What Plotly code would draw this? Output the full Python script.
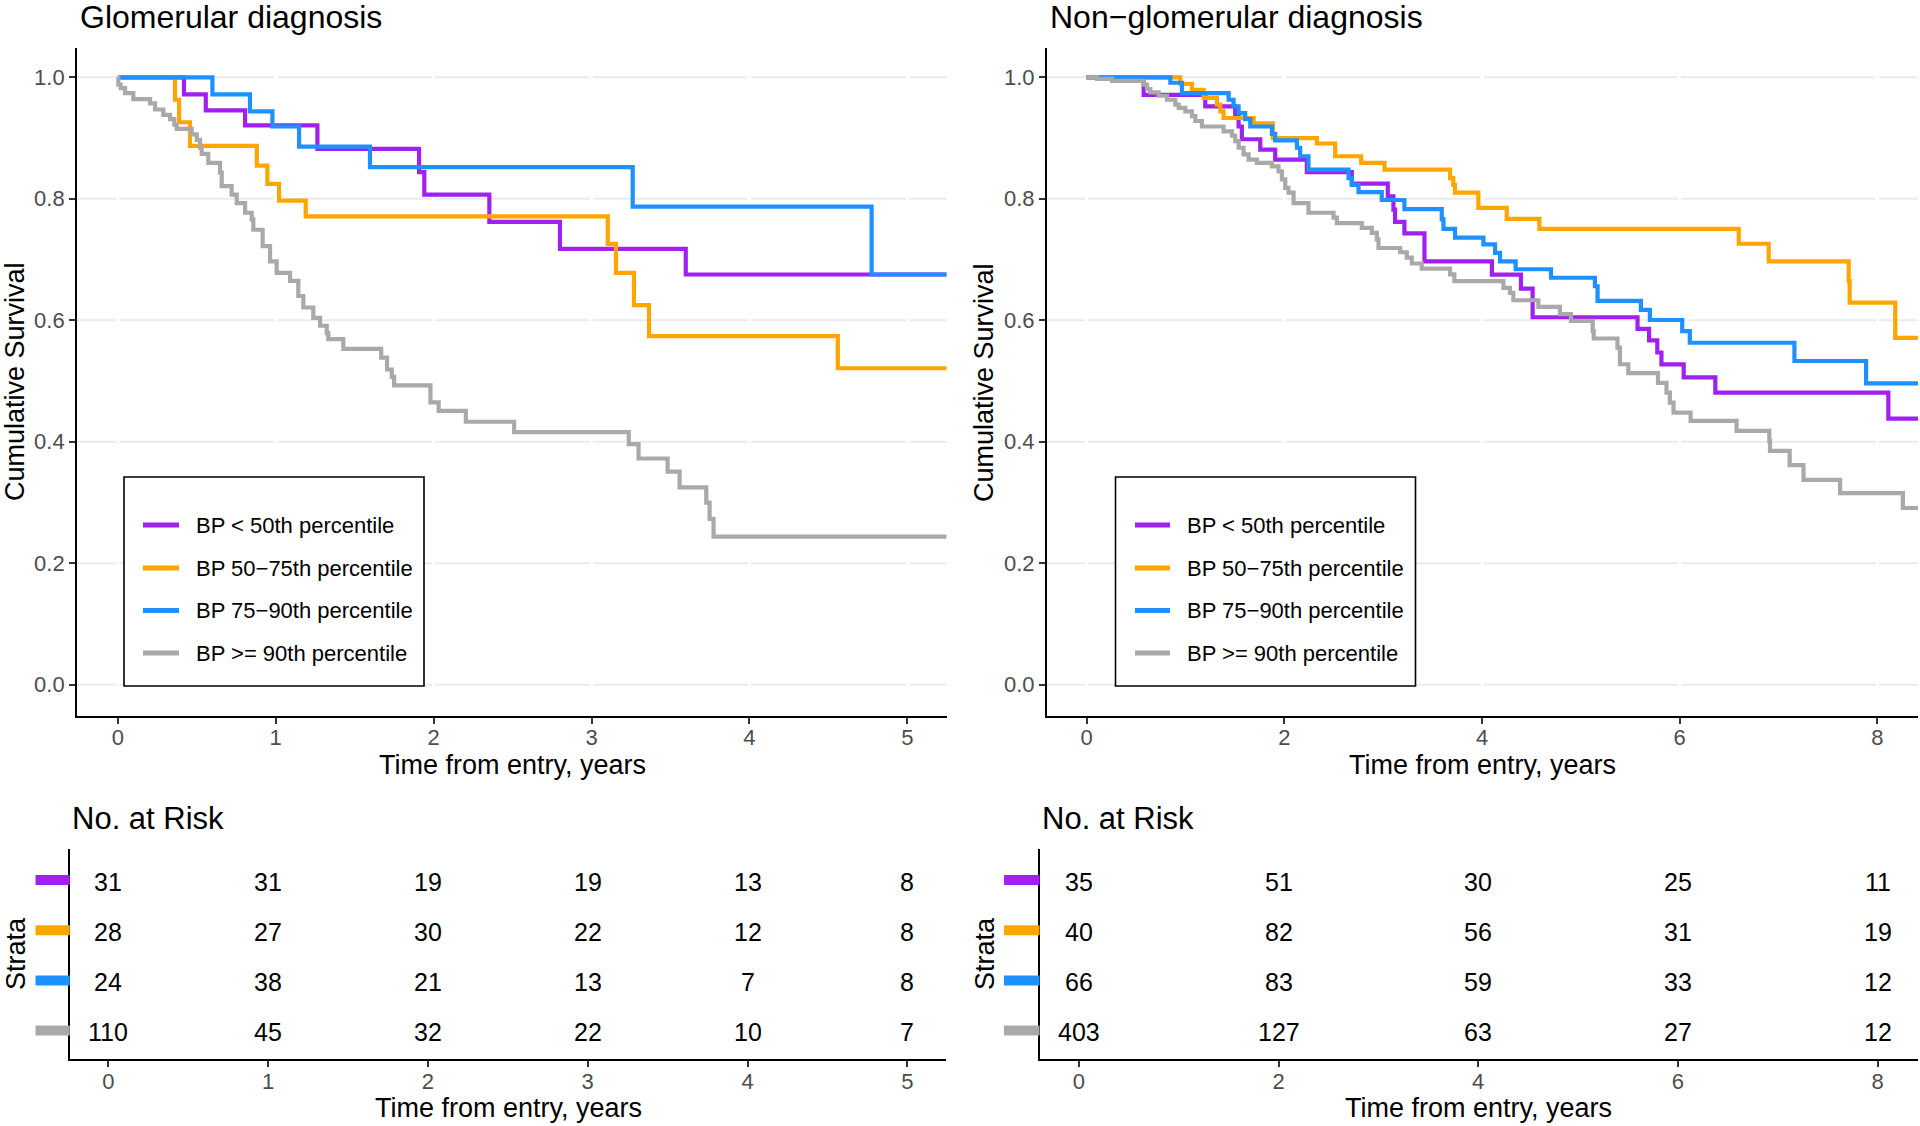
import plotly.graph_objects as go

W, H = 1920, 1126
FONT = "Liberation Sans, Arial, sans-serif"

def px(x):
    return x / W

def py(y):
    return 1 - y / H

# ---------------- data ----------------
series_names = ["BP < 50th percentile", "BP 50\u221275th percentile",
                "BP 75\u221290th percentile", "BP >= 90th percentile"]
series_colors = ["#A020F0", "#FFA500", "#1E90FF", "#A9A9A9"]

# Glomerular diagnosis (time in years, cumulative survival)
glom_purple_t = [0, 0.419, 0.557, 0.806, 1.264, 1.908, 1.941, 2.353, 2.80, 3.597, 5.25]
glom_purple_s = [1, 0.972, 0.9455, 0.921, 0.882, 0.844, 0.807, 0.762, 0.7176, 0.6754, 0.6754]

glom_orange_t = [0, 0.362, 0.388, 0.457, 0.88, 0.947, 1.021, 1.19, 3.103, 3.155, 3.269, 3.364, 4.56, 5.25]
glom_orange_s = [1, 0.963, 0.926, 0.887, 0.8546, 0.8245, 0.797, 0.771, 0.7258, 0.678, 0.625, 0.574, 0.521, 0.521]

glom_blue_t = [0, 0.599, 0.837, 0.979, 1.148, 1.597, 3.261, 4.774, 5.25]
glom_blue_s = [1, 0.972, 0.9438, 0.919, 0.886, 0.852, 0.787, 0.6754, 0.6754]

glom_gray_t = [0, 0.003, 0.018, 0.046, 0.098, 0.204, 0.236, 0.288, 0.331, 0.358, 0.373, 0.468, 0.50,
               0.521, 0.531, 0.573, 0.647, 0.658, 0.721, 0.753, 0.806, 0.848, 0.858, 0.917, 0.964,
               1.006, 1.091, 1.143, 1.175, 1.238, 1.281, 1.323, 1.333, 1.428, 1.668, 1.705, 1.735,
               1.75, 1.98, 2.032, 2.204, 2.51, 3.236, 3.298, 3.482, 3.558, 3.727, 3.748, 3.773, 5.25]
glom_gray_s = [1, 0.988, 0.982, 0.974, 0.964, 0.957, 0.947, 0.938, 0.931, 0.922, 0.915, 0.906, 0.897,
               0.884, 0.874, 0.859, 0.843, 0.821, 0.807, 0.793, 0.777, 0.766, 0.749, 0.722, 0.697,
               0.678, 0.665, 0.640, 0.621, 0.604, 0.591, 0.579, 0.569, 0.553, 0.5385, 0.519, 0.507,
               0.493, 0.465, 0.451, 0.433, 0.416, 0.396, 0.3725, 0.351, 0.325, 0.300, 0.273, 0.244, 0.244]

# Non-glomerular diagnosis
ng_purple_t = [0, 0.578, 1.201, 1.504, 1.538, 1.571, 1.757, 1.908, 2.228, 2.683, 3.047, 3.104, 3.121,
               3.215, 3.418, 4.10, 4.394, 4.512, 5.573, 5.69, 5.773, 5.815, 6.04, 6.36, 8.11, 8.41]
ng_purple_s = [1, 0.971, 0.952, 0.938, 0.919, 0.898, 0.881, 0.8645, 0.844, 0.825, 0.804, 0.782, 0.762,
               0.743, 0.697, 0.675, 0.652, 0.605, 0.586, 0.567, 0.547, 0.5275, 0.506, 0.481, 0.438, 0.438]

ng_orange_t = [0, 0.948, 1.066, 1.184, 1.319, 1.353, 1.386, 1.69, 1.885, 2.33, 2.515, 2.778, 3.014,
               3.677, 3.71, 3.727, 3.963, 4.25, 4.58, 6.597, 6.90, 7.709, 7.719, 8.18, 8.41]
ng_orange_s = [1, 0.989, 0.9795, 0.966, 0.955, 0.944, 0.933, 0.924, 0.900, 0.891, 0.870, 0.859, 0.848,
               0.834, 0.823, 0.810, 0.785, 0.767, 0.7505, 0.726, 0.697, 0.6645, 0.629, 0.571, 0.571]

ng_blue_t = [0, 0.848, 0.965, 1.437, 1.487, 1.538, 1.605, 1.656, 1.875, 1.908, 2.128, 2.161, 2.245,
             2.65, 2.683, 2.751, 2.986, 3.215, 3.593, 3.61, 3.727, 4.014, 4.132, 4.182, 4.34, 4.698,
             5.142, 5.169, 5.607, 5.698, 6.025, 6.102, 7.16, 7.885, 8.41]
ng_blue_s = [1, 0.991, 0.974, 0.963, 0.952, 0.941, 0.931, 0.919, 0.907, 0.896, 0.884, 0.870, 0.848,
             0.834, 0.823, 0.811, 0.798, 0.783, 0.766, 0.7505, 0.736, 0.725, 0.711, 0.697, 0.684, 0.670,
             0.656, 0.632, 0.617, 0.6005, 0.582, 0.563, 0.533, 0.496, 0.496]

ng_gray_t = [0, 0.106, 0.258, 0.578, 0.612, 0.645, 0.729, 0.814, 0.898, 0.932, 0.999, 1.066, 1.1, 1.167,
             1.386, 1.471, 1.504, 1.538, 1.588, 1.639, 1.723, 1.875, 1.942, 1.976, 2.01, 2.043, 2.094,
             2.245, 2.498, 2.532, 2.784, 2.885, 2.936, 2.953, 3.172, 3.239, 3.29, 3.39, 3.677, 3.72,
             4.216, 4.283, 4.317, 4.57, 4.788, 4.90, 5.12, 5.13, 5.37, 5.395, 5.48, 5.78, 5.866, 5.90,
             5.937, 6.11, 6.575, 6.906, 6.913, 7.112, 7.252, 7.622, 8.257, 8.41]
ng_gray_s = [1, 0.9975, 0.994, 0.988, 0.9805, 0.975, 0.9696, 0.963, 0.955, 0.9496, 0.944, 0.936, 0.928,
             0.919, 0.911, 0.904, 0.895, 0.884, 0.873, 0.8645, 0.859, 0.8535, 0.845, 0.832, 0.818, 0.810,
             0.793, 0.777, 0.769, 0.760, 0.752, 0.744, 0.733, 0.719, 0.712, 0.703, 0.6935, 0.685,
             0.6755, 0.6645, 0.6535, 0.645, 0.633, 0.622, 0.610, 0.599, 0.582, 0.570, 0.555, 0.5276,
             0.513, 0.497, 0.481, 0.4645, 0.448, 0.4345, 0.418, 0.4015, 0.385, 0.3615, 0.3374, 0.3155,
             0.291, 0.291]

# Numbers at risk
glom_risk_times = [0, 1, 2, 3, 4, 5]
glom_risk = [[31, 31, 19, 19, 13, 8],
             [28, 27, 30, 22, 12, 8],
             [24, 38, 21, 13, 7, 8],
             [110, 45, 32, 22, 10, 7]]
ng_risk_times = [0, 2, 4, 6, 8]
ng_risk = [[35, 51, 30, 25, 11],
           [40, 82, 56, 31, 19],
           [66, 83, 59, 33, 12],
           [403, 127, 63, 27, 12]]

y_ticks = [0, 0.2, 0.4, 0.6, 0.8, 1.0]
y_ticktext = ["0.0", "0.2", "0.4", "0.6", "0.8", "1.0"]

# ---------------- figure ----------------
fig = go.Figure()

panels = [
    dict(xa="x", ya="y", curves=[(glom_purple_t, glom_purple_s), (glom_orange_t, glom_orange_s),
                                 (glom_blue_t, glom_blue_s), (glom_gray_t, glom_gray_s)]),
    dict(xa="x2", ya="y2", curves=[(ng_purple_t, ng_purple_s), (ng_orange_t, ng_orange_s),
                                   (ng_blue_t, ng_blue_s), (ng_gray_t, ng_gray_s)]),
]
for p in panels:
    for (t, s), c, name in zip(p["curves"], series_colors, series_names):
        fig.add_trace(go.Scatter(x=t, y=s, mode="lines", name=name,
                                 line=dict(shape="hv", color=c, width=4.2),
                                 xaxis=p["xa"], yaxis=p["ya"], showlegend=False,
                                 hoverinfo="skip"))

tick_font = dict(size=22, color="#4D4D4D", family=FONT)

def xaxis_cfg(dom, rng, ticks, anchor):
    return dict(domain=dom, range=rng, tickvals=ticks, ticktext=[str(v) for v in ticks],
                showline=True, linecolor="black", linewidth=2, ticks="outside", ticklen=6,
                tickwidth=1.5, tickcolor="#333333", tickfont=tick_font, showgrid=False,
                zeroline=False, anchor=anchor, fixedrange=True, ticklabelstandoff=-5)

def yaxis_main(dom, anchor):
    return dict(domain=dom, range=[-0.0514, 1.0487], tickvals=y_ticks, ticktext=y_ticktext,
                showline=True, linecolor="black", linewidth=2, ticks="outside", ticklen=6,
                tickwidth=1.5, tickcolor="#333333", tickfont=tick_font, showgrid=False,
                zeroline=False, anchor=anchor, fixedrange=True)

def yaxis_table(dom, anchor):
    return dict(domain=dom, range=[0.4, 4.6], showticklabels=False, ticks="",
                showline=True, linecolor="black", linewidth=2, showgrid=False,
                zeroline=False, anchor=anchor, fixedrange=True)

main_ydom = [py(716), py(47.7)]
table_ydom = [py(1059.3), py(849)]

fig.update_layout(
    width=W, height=H, autosize=False,
    margin=dict(l=0, r=0, t=0, b=0),
    paper_bgcolor="white", plot_bgcolor="white",
    font=dict(family=FONT),
    xaxis=xaxis_cfg([px(77.1), px(946.6)], [-0.258, 5.249], glom_risk_times, "y"),
    yaxis=yaxis_main(main_ydom, "x"),
    xaxis2=xaxis_cfg([px(1047), px(1918)], [-0.40, 8.41], ng_risk_times, "y2"),
    yaxis2=yaxis_main(main_ydom, "x2"),
    xaxis3=xaxis_cfg([px(69.8), px(946.4)], [-0.242, 5.245], glom_risk_times, "y3"),
    yaxis3=yaxis_table(table_ydom, "x3"),
    xaxis4=xaxis_cfg([px(1039.6), px(1918)], [-0.393, 8.405], ng_risk_times, "y4"),
    yaxis4=yaxis_table(table_ydom, "x4"),
)

shapes = []
# grid lines with white gaps at major x ticks
for xa, ya, xt in [("x", "y", glom_risk_times), ("x2", "y2", ng_risk_times)]:
    for v in y_ticks:
        shapes.append(dict(type="line", xref=f"{xa} domain", yref=ya, x0=0, x1=1, y0=v, y1=v,
                           line=dict(color="#EBEBEB", width=2), layer="below"))
    for t in xt:
        shapes.append(dict(type="line", xref=xa, yref=f"{ya} domain", x0=t, x1=t, y0=0, y1=1,
                           line=dict(color="white", width=3), layer="below"))

annotations = []

# risk table numbers, placed through the table axes
for xa, ya, times, risk in [("x3", "y3", glom_risk_times, glom_risk),
                            ("x4", "y4", ng_risk_times, ng_risk)]:
    for i, row in enumerate(risk):
        for t, v in zip(times, row):
            annotations.append(dict(text=str(v), x=t, y=4 - i, xref=xa, yref=ya,
                                    xanchor="center", yanchor="middle", yshift=-2.5,
                                    showarrow=False,
                                    font=dict(size=25, color="black", family=FONT)))

def ann(text, x, y, size, xanchor="center", yanchor="middle", color="black", angle=0):
    annotations.append(dict(text=text, x=px(x), y=py(y), xref="paper", yref="paper",
                            xanchor=xanchor, yanchor=yanchor, showarrow=False, textangle=angle,
                            font=dict(size=size, color=color, family=FONT)))

# titles
ann("Glomerular diagnosis", 78, 17, 32, xanchor="left")
ann("Non\u2212glomerular diagnosis", 1048, 17, 32, xanchor="left")
ann("Cumulative Survival", 15, 382, 27, angle=-90)
ann("Cumulative Survival", 984, 382, 27, angle=-90)
ann("Time from entry, years", 512, 765, 27)
ann("Time from entry, years", 1482, 765, 27)
ann("No. at Risk", 70, 818, 31, xanchor="left")
ann("No. at Risk", 1040, 818, 31, xanchor="left")
ann("Strata", 16, 954, 27, angle=-90)
ann("Strata", 985, 954, 27, angle=-90)
ann("Time from entry, years", 508, 1108, 27)
ann("Time from entry, years", 1478, 1108, 27)

# legends
row_y = [525, 568, 610.5, 653]
for bx0, bx1, lx0, lx1, tx in [(124, 424, 143, 179, 194), (1115.5, 1415.5, 1135, 1170, 1185)]:
    shapes.append(dict(type="rect", xref="paper", yref="paper", x0=px(bx0), x1=px(bx1),
                       y0=py(686), y1=py(477), line=dict(color="black", width=1.6),
                       fillcolor="white", layer="above"))
    for yy, c, name in zip(row_y, series_colors, series_names):
        shapes.append(dict(type="line", xref="paper", yref="paper", x0=px(lx0), x1=px(lx1),
                           y0=py(yy), y1=py(yy), line=dict(color=c, width=5), layer="above"))
        ann(name, tx, yy, 22, xanchor="left")

# strata colour keys in risk tables
table_rows_y = [880, 930.3, 980.5, 1030.5]
for kx0, kx1 in [(35.5, 69.8), (1004, 1039.6)]:
    for yy, c in zip(table_rows_y, series_colors):
        shapes.append(dict(type="rect", xref="paper", yref="paper", x0=px(kx0), x1=px(kx1),
                           y0=py(yy + 5), y1=py(yy - 5), line=dict(width=0), fillcolor=c,
                           layer="above"))

fig.update_layout(shapes=shapes, annotations=annotations)

fig.write_html("out.html", config={"displayModeBar": False},
               post_script="document.body.style.margin='0';document.body.style.overflow='hidden';")
